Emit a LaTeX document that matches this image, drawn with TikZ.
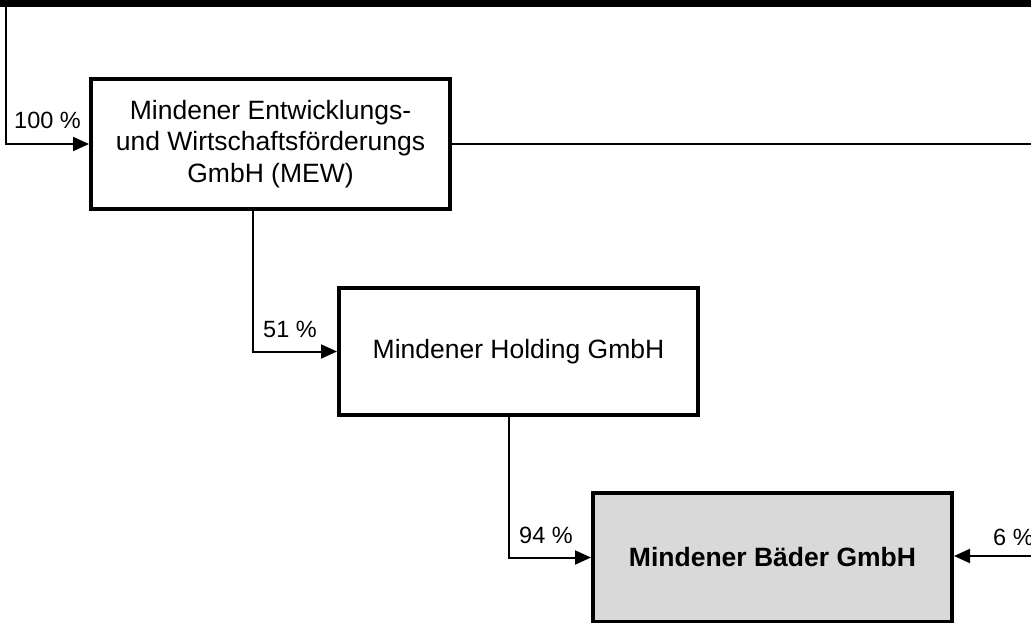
\documentclass[tikz,border=0pt]{standalone}
\usepackage{fontspec}
\setmainfont{Liberation Sans}
\usetikzlibrary{arrows.meta}
\definecolor{boxgray}{RGB}{217,217,217}
\begin{document}
\begin{tikzpicture}[x=1pt,y=-1pt,
  box/.style={draw=black, line width=4pt, minimum width=359pt, inner sep=0pt, align=center,
    font=\fontsize{26.5}{31.8}\selectfont},
  conn/.style={line width=2pt, draw=black},
  arr/.style={conn, -{Triangle[length=16pt,width=14pt]}},
  pct/.style={anchor=base west, inner sep=0pt, font=\fontsize{23.5}{28}\selectfont}]
\useasboundingbox (0,0) rectangle (1031,622);
\fill[black] (0,0) rectangle (1031,7);
\node[box, minimum height=130pt] (mew) at (270.5,144) {Mindener Entwicklungs-\\und Wirtschaftsförderungs\\GmbH (MEW)};
\node[box, minimum height=127pt] (mh) at (518.5,351.5) {Mindener Holding GmbH};
\node[box, minimum height=129pt, fill=boxgray, font=\fontsize{26.5}{31.8}\selectfont\bfseries] (mb) at (772.5,557.5) {Mindener Bäder GmbH};
\coordinate (tl) at (6,7);
\coordinate (re) at (1031,144);
\coordinate (rb) at (1031,556);
\draw[arr] (tl) |- (mew.west);
\draw[conn] (mew.east) -- (re);
\draw[arr] (mew.south west) ++(164,0) |- (mh.west);
\draw[arr] (mh.south west) ++(172,0) |- (mb.west);
\draw[arr] (rb) -- (mb.east |- rb);
\node[pct] (l100) at (14,128) {100 \%};
\node[pct] (l51) at (263,337) {51 \%};
\node[pct] (l94) at (519,543) {94 \%};
\node[pct] (l6) at (993,545) {6 \%};
\end{tikzpicture}
\end{document}
